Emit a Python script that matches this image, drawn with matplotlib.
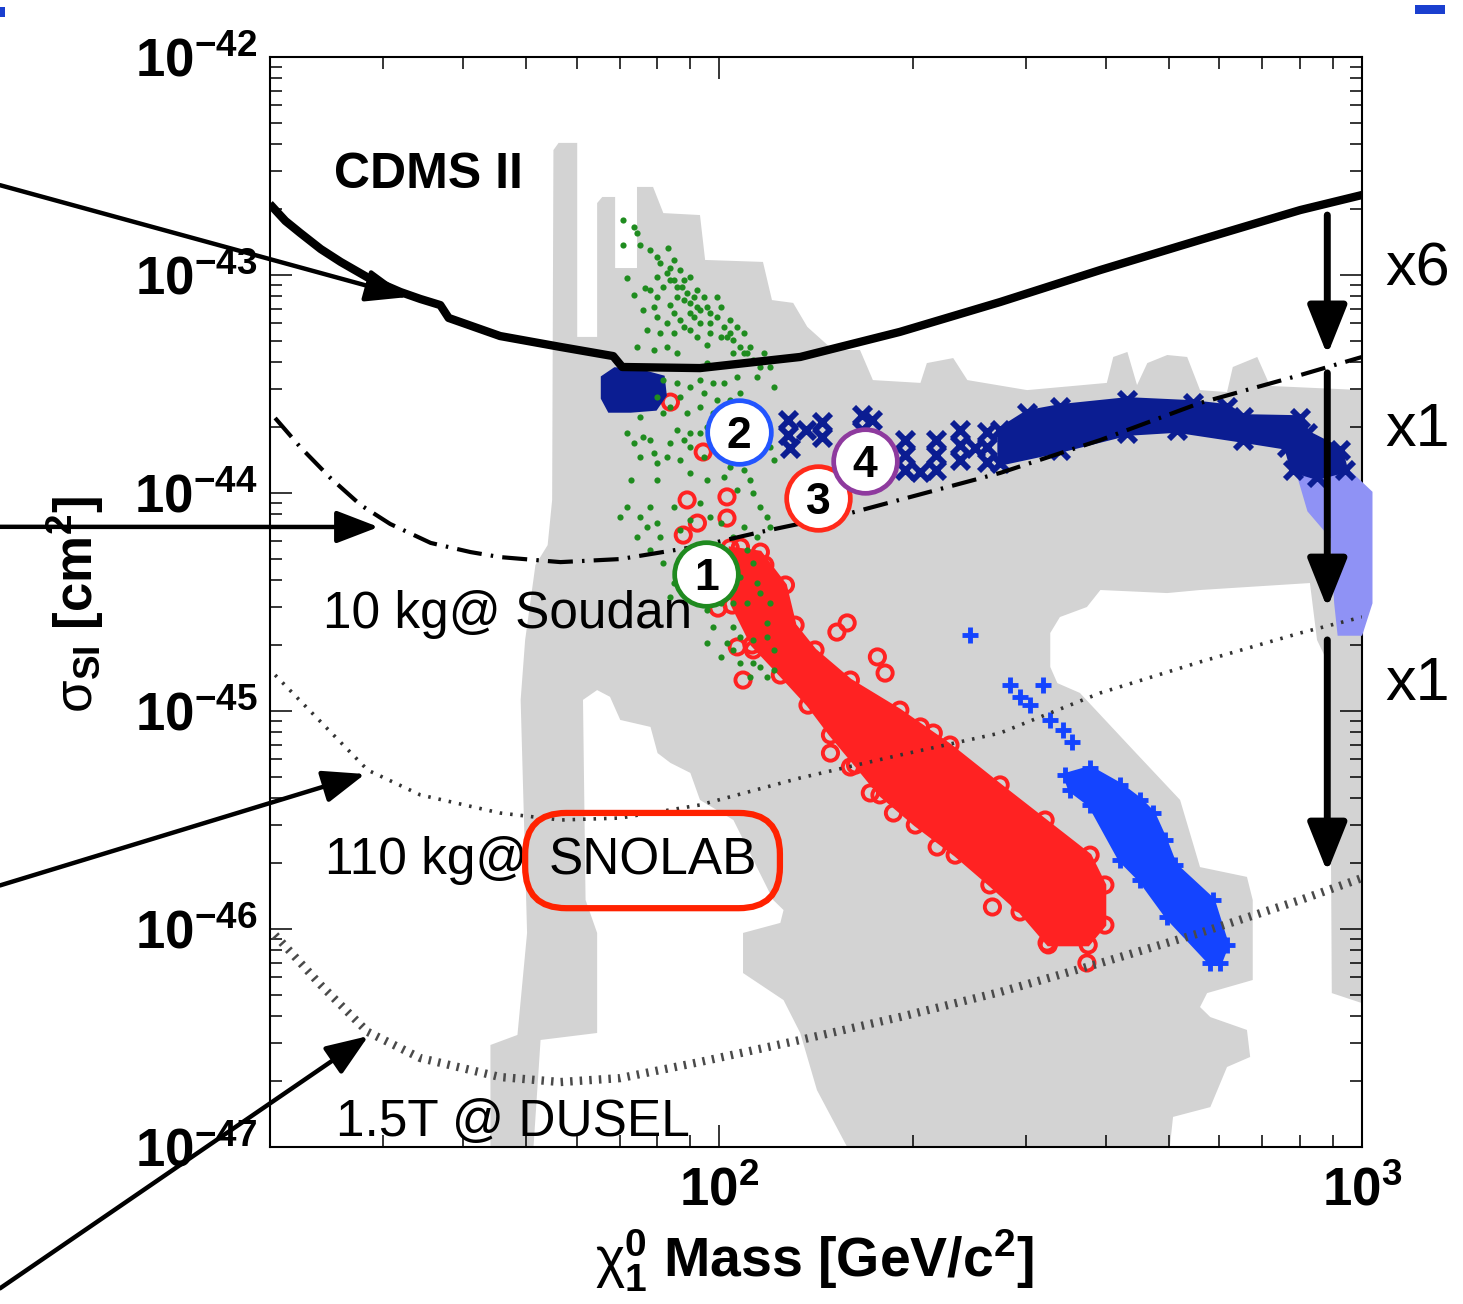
import matplotlib

matplotlib.use("Agg")
import matplotlib.pyplot as plt
import numpy as np
from matplotlib.patches import Polygon, Rectangle
from matplotlib.ticker import FixedLocator, FuncFormatter, LogLocator, NullFormatter

plt.rcParams["font.family"] = ["Liberation Sans", "DejaVu Sans"]
plt.rcParams["mathtext.fontset"] = "custom"
plt.rcParams["mathtext.rm"] = "Liberation Sans"
plt.rcParams["mathtext.it"] = "Liberation Sans:italic"
plt.rcParams["mathtext.bf"] = "Liberation Sans:bold"

# every value below is log10(mass / GeV) or log10(sigma_SI / cm^2)

# CDMS II limit
cdms_log_m = [1.305, 1.325, 1.348, 1.380, 1.411, 1.457, 1.504, 1.535, 1.566, 1.579,
              1.659, 1.753, 1.835, 1.849, 1.970, 2.126, 2.281, 2.437, 2.593, 2.748,
              2.904, 3.000]
cdms_log_s = [-42.688, -42.752, -42.807, -42.881, -42.940, -43.018, -43.078, -43.110,
              -43.138, -43.197, -43.280, -43.330, -43.372, -43.422, -43.427, -43.376,
              -43.261, -43.124, -42.977, -42.839, -42.702, -42.633]

# projected sensitivities
proj_log_m = [1.309, 1.380, 1.453, 1.535, 1.659, 1.753, 1.846, 1.970, 2.126, 2.281,
              2.437, 2.593, 2.748, 2.904, 3.000]
soudan_log_m = [1.309, 1.348, 1.395, 1.442, 1.488, 1.551, 1.613, 1.659, 1.753, 1.846,
                1.970, 2.064, 2.204, 2.437, 2.593, 2.748, 2.904, 3.000]
soudan_log_s = [-43.656, -43.789, -43.931, -44.055, -44.142, -44.229, -44.271, -44.294,
                -44.317, -44.303, -44.243, -44.179, -44.092, -43.908, -43.757, -43.587,
                -43.459, -43.376]
snolab_log_s = [-44.835, -45.050, -45.271, -45.385, -45.468, -45.500, -45.491, -45.431,
                -45.307, -45.202, -45.101, -44.917, -44.775, -44.642, -44.569]
dusel_log_s = [-46.028, -46.257, -46.472, -46.592, -46.679, -46.702, -46.684, -46.610,
               -46.509, -46.404, -46.289, -46.156, -46.018, -45.867, -45.766]

# grey region allowed by the model scan
gray_log_m = [1.644, 1.644, 1.686, 1.701, 1.691, 1.698, 1.714, 1.733, 1.740, 1.742,
              1.750, 1.779, 1.779, 1.810, 1.810, 1.818, 1.838, 1.838, 1.872, 1.872,
              1.897, 1.913, 1.970, 1.978, 2.068, 2.082, 2.115, 2.137, 2.177, 2.219,
              2.239, 2.313, 2.323, 2.364, 2.386, 2.479, 2.603, 2.613, 2.635, 2.650,
              2.666, 2.697, 2.728, 2.748, 2.790, 2.799, 2.837, 2.857, 3.000, 3.000,
              2.953, 2.950, 2.930, 2.919, 2.748, 2.697, 2.593, 2.572, 2.530, 2.515,
              2.515, 2.526, 2.561, 2.644, 2.717, 2.748, 2.821, 2.830, 2.830, 2.759,
              2.748, 2.764, 2.821, 2.826, 2.790, 2.764, 2.706, 2.701, 2.199, 2.152,
              2.126, 2.100, 2.037, 2.037, 2.095, 2.100, 2.084, 2.022, 1.970, 1.955,
              1.924, 1.904, 1.893, 1.846, 1.830, 1.810, 1.788, 1.792, 1.810, 1.810,
              1.722, 1.711]
gray_log_s = [-47.000, -46.532, -46.486, -46.018, -44.949, -44.674, -44.330, -44.239,
              -44.032, -42.427, -42.394, -42.394, -43.284, -43.284, -42.670, -42.642,
              -42.642, -42.968, -42.968, -42.596, -42.596, -42.716, -42.725, -42.931,
              -42.940, -43.115, -43.128, -43.238, -43.344, -43.344, -43.482, -43.495,
              -43.404, -43.381, -43.482, -43.528, -43.495, -43.376, -43.353, -43.505,
              -43.404, -43.367, -43.376, -43.528, -43.537, -43.422, -43.376, -43.509,
              -43.528, -46.340, -46.294, -44.798, -44.674, -44.413, -44.445, -44.459,
              -44.445, -44.523, -44.569, -44.642, -44.798, -44.872, -44.917, -45.179,
              -45.408, -45.716, -45.761, -45.867, -46.234, -46.294, -46.358, -46.404,
              -46.463, -46.587, -46.633, -46.817, -46.862, -47.000, -47.000, -46.739,
              -46.477, -46.326, -46.202, -46.018, -45.972, -45.913, -45.867, -45.500,
              -45.408, -45.284, -45.238, -45.193, -45.073, -45.041, -44.935, -44.904,
              -44.949, -45.867, -46.018, -46.477, -46.509, -47.000]

# green points
green_log_m = [1.851, 1.867, 1.872, 1.851, 1.877, 1.893, 1.903, 1.921, 1.929, 1.924,
               1.939, 1.955, 1.924, 1.903, 1.856, 1.885, 1.913, 1.942, 1.965, 1.976,
               1.934, 1.924, 1.955, 1.970, 1.996, 2.002, 2.017, 2.027, 1.986, 1.960,
               1.939, 1.903, 1.882, 1.867, 1.898, 1.919, 1.908, 1.929, 1.965, 1.981,
               2.012, 2.038, 2.048, 2.069, 2.079, 2.064, 2.059, 2.085, 2.038, 2.022,
               1.872, 1.898, 1.965, 1.981, 1.970, 1.991, 1.955, 1.934, 1.939, 1.976,
               1.996, 1.950, 1.934, 1.955, 1.913, 1.877, 1.856, 1.867, 1.893, 1.924,
               1.955, 1.939, 1.903, 1.877, 1.862, 1.903, 1.955, 1.981, 2.007, 2.027,
               2.048, 2.079, 2.085, 2.033, 2.027, 2.007, 2.017,
               1.856, 1.877, 1.887, 1.903, 1.893, 1.929, 1.970, 2.053, 2.064, 2.074,
               2.079, 2.059, 2.038, 2.002, 1.986, 1.955, 1.939, 1.908, 1.872, 1.846,
               1.893, 1.913, 1.929, 1.924, 1.981, 1.991, 2.022, 2.033, 2.053, 2.074,
               2.085, 2.053, 2.064, 2.085, 2.022, 2.033, 2.012, 1.950, 2.074, 2.079,
               2.064]
green_log_s = [-42.748, -42.778, -42.809, -42.862, -42.862, -42.885, -42.916, -42.878,
               -42.931, -42.969, -42.977, -43.008, -43.023, -43.008, -43.015, -43.061,
               -43.054, -43.054, -43.069, -43.099, -43.099, -43.138, -43.130, -43.161,
               -43.099, -43.145, -43.206, -43.237, -43.222, -43.191, -43.206, -43.191,
               -43.161, -43.092, -43.145, -43.222, -43.268, -43.268, -43.283, -43.321,
               -43.283, -43.268, -43.329, -43.359, -43.420, -43.420, -43.466, -43.512,
               -43.359, -43.359, -43.329, -43.344, -43.420, -43.405, -43.482, -43.497,
               -43.512, -43.497, -43.558, -43.543, -43.573, -43.635, -43.711, -43.726,
               -43.635, -43.650, -43.726, -43.772, -43.757, -43.772, -43.787, -43.849,
               -43.864, -43.833, -43.940, -43.940, -43.910, -43.940, -43.925, -43.986,
               -43.940, -43.787, -43.849, -43.543, -43.466, -43.497, -43.573,
               -44.063, -44.109, -44.154, -44.139, -44.063, -44.063, -44.047, -44.002,
               -44.063, -44.109, -44.154, -44.200, -44.154, -44.139, -44.109, -44.124,
               -44.170, -44.200, -44.200, -44.109, -44.261, -44.323, -44.414, -44.476,
               -44.537, -44.613, -44.613, -44.659, -44.674, -44.659, -44.720, -44.781,
               -44.797, -44.812, -44.720, -44.781, -44.690, -44.445, -44.598, -44.506,
               -44.460]
green_extra_log_m = [1.908, 1.919, 1.929, 1.945, 1.950, 1.960, 1.965, 1.981, 1.986, 1.996,
                     2.007, 2.017, 2.022, 2.033, 2.043, 2.053, 1.934, 1.945, 1.955, 1.970,
                     1.986, 2.002, 1.929, 1.945, 1.955, 1.893, 1.903, 1.888, 1.919, 1.934,
                     1.945, 1.924, 1.913, 1.903, 1.924, 1.970, 1.991, 1.981, 2.007, 2.017,
                     1.996, 1.976, 2.017, 2.038, 2.059, 1.970, 1.945, 1.882, 1.898, 1.919,
                     1.950, 1.970, 2.002, 2.022, 2.043, 2.053, 2.033, 2.012, 1.996, 1.970,
                     1.965, 2.002, 2.043, 2.059, 2.022, 1.981, 2.002, 2.048, 2.074]
green_extra_log_s = [-42.947, -42.992, -43.023, -43.023, -43.084, -43.099, -43.145, -43.145,
                     -43.176, -43.191, -43.237, -43.268, -43.298, -43.329, -43.359, -43.390,
                     -43.054, -43.115, -43.176, -43.222, -43.268, -43.283, -43.176, -43.237,
                     -43.252, -43.069, -43.099, -43.252, -43.329, -43.359, -43.420, -43.420,
                     -43.482, -43.558, -43.604, -43.604, -43.635, -43.696, -43.711, -43.787,
                     -43.818, -43.833, -43.879, -43.895, -43.818, -43.726, -43.757, -43.742,
                     -43.818, -43.833, -44.261, -44.292, -44.261, -44.200, -44.261, -44.323,
                     -44.384, -44.414, -44.353, -44.414, -44.506, -44.506, -44.506, -44.414,
                     -44.506, -44.690, -44.751, -44.843, -44.843]

# red points: dense core outline plus scattered points
red_core_log_m = [2.017, 2.064, 2.103, 2.118, 2.149, 2.204, 2.281, 2.359, 2.437, 2.507,
                  2.577, 2.600, 2.600, 2.574, 2.512, 2.468, 2.421, 2.367, 2.305, 2.250,
                  2.212, 2.173, 2.138, 2.095, 2.051, 2.020]
red_core_log_s = [-44.252, -44.271, -44.422, -44.606, -44.720, -44.858, -44.996, -45.156,
                  -45.339, -45.500, -45.661, -45.798, -45.982, -46.073, -46.073, -45.922,
                  -45.798, -45.661, -45.523, -45.385, -45.248, -45.110, -44.973, -44.835,
                  -44.697, -44.514]
red_log_m = [1.924, 1.975, 1.950, 2.012, 2.012, 1.966, 1.944, 2.033, 1.998, 2.037,
             2.028, 2.053, 2.199, 2.183, 2.246, 2.258, 2.313, 2.333, 2.173, 2.204,
             2.235, 2.137, 2.131, 2.271, 2.339, 2.406, 2.425, 2.572, 2.510, 2.468,
             2.071]
red_log_s = [-43.583, -43.812, -44.032, -44.018, -44.115, -44.138, -44.193, -44.248,
             -44.528, -44.858, -44.706, -44.720, -44.596, -44.638, -44.752, -44.826,
             -45.073, -45.101, -45.193, -45.257, -45.376, -44.826, -44.872, -45.468,
             -45.624, -45.697, -45.899, -46.156, -46.064, -45.881, -44.330]

# blue crosses: dense band outline plus scattered points
blue_core_log_m = [2.538, 2.577, 2.624, 2.655, 2.675, 2.694, 2.709, 2.768, 2.790, 2.779,
                   2.764, 2.697, 2.655, 2.624, 2.577, 2.546]
blue_core_log_s = [-45.294, -45.261, -45.339, -45.408, -45.468, -45.592, -45.706, -45.867,
                   -46.073, -46.156, -46.156, -45.945, -45.775, -45.683, -45.431, -45.362]
blue_log_m = [2.390, 2.453, 2.504, 2.484, 2.515, 2.535, 2.549, 2.468]
blue_log_s = [-44.651, -44.881, -44.881, -44.973, -45.041, -45.087, -45.142, -44.936]

# navy crosses
navy_band_log_m = [2.437, 2.479, 2.530, 2.635, 2.737, 2.790, 2.815, 2.904, 2.914, 2.966,
                   2.974, 2.930, 2.893, 2.883, 2.815, 2.712, 2.635, 2.530, 2.437]
navy_band_log_s = [-43.711, -43.633, -43.605, -43.573, -43.587, -43.605, -43.651, -43.656,
                   -43.725, -43.803, -43.894, -43.927, -43.894, -43.789, -43.757, -43.711,
                   -43.725, -43.803, -43.862]
navy_blob_log_m = [1.820, 1.838, 1.877, 1.911, 1.914, 1.900, 1.862, 1.830, 1.820]
navy_blob_log_s = [-43.472, -43.436, -43.445, -43.472, -43.550, -43.610, -43.619, -43.619,
                   -43.564]
navy_log_m = [2.289, 2.289, 2.289, 2.313, 2.337, 2.337, 2.337, 2.375, 2.375, 2.375,
              2.398, 2.417, 2.417, 2.417, 2.107, 2.107, 2.110, 2.135, 2.160, 2.160,
              2.222, 2.222, 2.222, 2.238, 2.238]
navy_log_s = [-43.757, -43.826, -43.894, -43.904, -43.757, -43.826, -43.894, -43.711,
              -43.780, -43.849, -43.794, -43.720, -43.789, -43.858, -43.665, -43.734,
              -43.794, -43.711, -43.674, -43.743, -43.642, -43.711, -43.780, -43.665,
              -43.757]
light_log_m = [2.904, 2.919, 2.955, 2.961, 2.966, 2.997, 3.012, 3.012, 2.974]
light_log_s = [-43.927, -44.078, -44.202, -44.504, -44.642, -44.642, -44.504, -44.000,
               -43.894]

# numbered benchmark points
bench_labels = ["1", "2", "3", "4"]
bench_log_m = [1.980, 2.030, 2.154, 2.227]
bench_log_s = [-44.372, -43.720, -44.023, -43.853]
bench_colors = ["#1f8a1f", "#2255ff", "#ff2a1a", "#8e3a9e"]

# arrows from the slide pointing at the curves
arrow_tip_log_m = [1.516, 1.470, 1.449, 1.454]
arrow_tip_log_s = [-43.101, -44.156, -45.289, -46.491]
arrow_tail_fig_y = [0.858, 0.596, 0.321, 0.012]

# improvement arrows at the right
step_log_m = 2.946
step_top_log_s = [-42.725, -43.449, -44.674]
step_bottom_log_s = [-43.367, -44.528, -45.739]
step_labels = ["x6", "x1", "x1"]
step_label_fig_y = [0.793, 0.670, 0.475]


def to_xy(log_m, log_s):
    return np.column_stack([10.0 ** np.asarray(log_m), 10.0 ** np.asarray(log_s)])


fig = plt.figure(figsize=(14.63, 13.04), dpi=100)
ax = fig.add_axes([270 / 1463, 1 - 1147 / 1304, 1092 / 1463, 1090 / 1304])
ax.set_xscale("log")
ax.set_yscale("log")
ax.set_xlim(20, 1000)
ax.set_ylim(1e-47, 1e-42)

ax.add_patch(Polygon(to_xy(gray_log_m, gray_log_s), closed=True, fc="#d3d3d3", ec="none", zorder=1))

red = "#ff2222"
navy = "#0b1d92"
blue = "#1444ff"
light = "#8f92f5"

ax.add_patch(Polygon(to_xy(red_core_log_m, red_core_log_s), closed=True, fc=red, ec=red, lw=2, zorder=3))
red_pts = np.vstack([to_xy(red_log_m, red_log_s), to_xy(red_core_log_m, red_core_log_s)])
ax.scatter(red_pts[:, 0], red_pts[:, 1], s=120, marker="o", facecolors="none",
           edgecolors=red, linewidths=2.8, zorder=3)

ax.add_patch(Polygon(to_xy(blue_core_log_m, blue_core_log_s), closed=True, fc=blue, ec=blue, lw=3, zorder=3))
blue_pts = np.vstack([to_xy(blue_log_m, blue_log_s), to_xy(blue_core_log_m, blue_core_log_s)])
ax.scatter(blue_pts[:, 0], blue_pts[:, 1], s=130, marker="+", color=blue, linewidths=3.5, zorder=3)

ax.add_patch(Polygon(to_xy(light_log_m, light_log_s), closed=True, fc=light, ec=light, lw=4,
                     zorder=3, clip_on=False))
ax.add_patch(Polygon(to_xy(navy_band_log_m, navy_band_log_s), closed=True, fc=navy, ec=navy, lw=4, zorder=3))
ax.add_patch(Polygon(to_xy(navy_blob_log_m, navy_blob_log_s), closed=True, fc=navy, ec=navy, lw=4, zorder=3))
navy_pts = np.vstack([to_xy(navy_log_m, navy_log_s), to_xy(navy_band_log_m, navy_band_log_s)])
ax.scatter(navy_pts[:, 0], navy_pts[:, 1], s=150, marker="x", color=navy, linewidths=4.2, zorder=3)

green_pts = np.vstack([to_xy(green_log_m, green_log_s), to_xy(green_extra_log_m, green_extra_log_s)])
ax.scatter(green_pts[:, 0], green_pts[:, 1], s=20, color="#1f8c1f", linewidths=0, zorder=3.5)

cdms = to_xy(cdms_log_m, cdms_log_s)
ax.plot(cdms[:, 0], cdms[:, 1], color="black", lw=6, solid_joinstyle="round", zorder=5)
soudan = to_xy(soudan_log_m, soudan_log_s)
ax.plot(soudan[:, 0], soudan[:, 1], color="black", lw=3, linestyle=(0, (6, 2.2, 0.6, 2.2)), zorder=5)
snolab = to_xy(proj_log_m, snolab_log_s)
ax.plot(snolab[:, 0], snolab[:, 1], color="#333333", lw=2.6, linestyle=(0, (0.7, 2.2)), zorder=5)
dusel = to_xy(proj_log_m, dusel_log_s)
ax.plot(dusel[:, 0], dusel[:, 1], color="#4a4a4a", lw=6, linestyle=(0, (0.3, 0.85)), zorder=5)

for label, lm, ls, col in zip(bench_labels, bench_log_m, bench_log_s, bench_colors):
    ax.scatter([10 ** lm], [10 ** ls], s=2100, marker="o", facecolors="white",
               edgecolors=col, linewidths=3.4, zorder=8)
    ax.text(10 ** lm, 10 ** ls, label, ha="center", va="center_baseline", fontsize=32,
            fontweight="bold", zorder=9)

text_kw = dict(fontsize=37, va="baseline", ha="left", zorder=7)
ax.text(10 ** 1.400, 10 ** -42.541, "CDMS II", fontsize=36, fontweight="bold", va="center", zorder=7)
ax.text(10 ** 1.383, 10 ** -44.619, "10 kg@ Soudan", **text_kw)
ax.text(10 ** 1.387, 10 ** -45.748, "110 kg@", **text_kw)
ax.text(10 ** 1.734, 10 ** -45.748, "SNOLAB", **text_kw,
        bbox=dict(boxstyle="round,pad=0.45,rounding_size=0.8", fc="none", ec="#ff2200", lw=4.5))
ax.text(10 ** 1.403, 10 ** -46.950, "1.5T @ DUSEL", **text_kw)

for lm, ls, fy in zip(arrow_tip_log_m, arrow_tip_log_s, arrow_tail_fig_y):
    ax.annotate("", xy=(10 ** lm, 10 ** ls), xycoords="data", xytext=(0.0, fy),
                textcoords="figure fraction", annotation_clip=False, zorder=10,
                arrowprops=dict(arrowstyle="-|>,head_length=1.3,head_width=0.5", lw=3.2,
                                color="black", shrinkA=0, shrinkB=0, mutation_scale=20))

for top, bottom in zip(step_top_log_s, step_bottom_log_s):
    ax.annotate("", xy=(10 ** step_log_m, 10 ** bottom), xytext=(10 ** step_log_m, 10 ** top),
                annotation_clip=False, zorder=10,
                arrowprops=dict(arrowstyle="-|>,head_length=1.5,head_width=0.6", lw=5,
                                color="black", shrinkA=0, shrinkB=0, mutation_scale=20))

for label, fy in zip(step_labels, step_label_fig_y):
    fig.text(1385 / 1463, fy, label, fontsize=44, va="center", ha="left")

# axes styling
ax.xaxis.set_major_locator(FixedLocator([1e2, 1e3]))
ax.yaxis.set_major_locator(FixedLocator([1e-47, 1e-46, 1e-45, 1e-44, 1e-43, 1e-42]))
ax.xaxis.set_minor_locator(LogLocator(base=10, subs=np.arange(2, 10), numticks=20))
ax.yaxis.set_minor_locator(LogLocator(base=10, subs=np.arange(2, 10), numticks=20))
power = FuncFormatter(lambda v, _: r"$\mathbf{10^{%d}}$" % int(round(np.log10(v))))
ax.xaxis.set_major_formatter(power)
ax.yaxis.set_major_formatter(power)
ax.xaxis.set_minor_formatter(NullFormatter())
ax.yaxis.set_minor_formatter(NullFormatter())
ax.tick_params(which="both", direction="in", top=True, right=True, width=1.1)
ax.tick_params(which="major", length=16, labelsize=38)
ax.tick_params(which="minor", length=8.5)
ax.tick_params(axis="x", which="major", pad=14)
ax.tick_params(axis="y", which="major", pad=9)
for spine in ax.spines.values():
    spine.set_linewidth(1.5)

fig.text(75 / 1463, 1 - 605 / 1304, r"$\mathrm{\sigma}_{\mathbf{SI}}$ [cm$^{\mathbf{2}}$]", rotation=90,
         fontsize=38, fontweight="bold", ha="center", va="center")
fig.text(815 / 1463, 1 - 1277 / 1304,
         r"$\mathrm{\chi}^{\mathbf{0}}_{\mathbf{1}}$ Mass [GeV/c$^{\mathbf{2}}$]",
         fontsize=40, fontweight="bold", ha="center", va="baseline")

# bits of the slide showing at the top corners
fig.add_artist(Rectangle((1415 / 1463, 1 - 14 / 1304), 30 / 1463, 9 / 1304,
                         transform=fig.transFigure, fc="#1a3fcf", ec="none"))
fig.add_artist(Rectangle((0, 1 - 17 / 1304), 5 / 1463, 10 / 1304,
                         transform=fig.transFigure, fc="#1a3fcf", ec="none"))

fig.savefig("out.png", dpi=100)
